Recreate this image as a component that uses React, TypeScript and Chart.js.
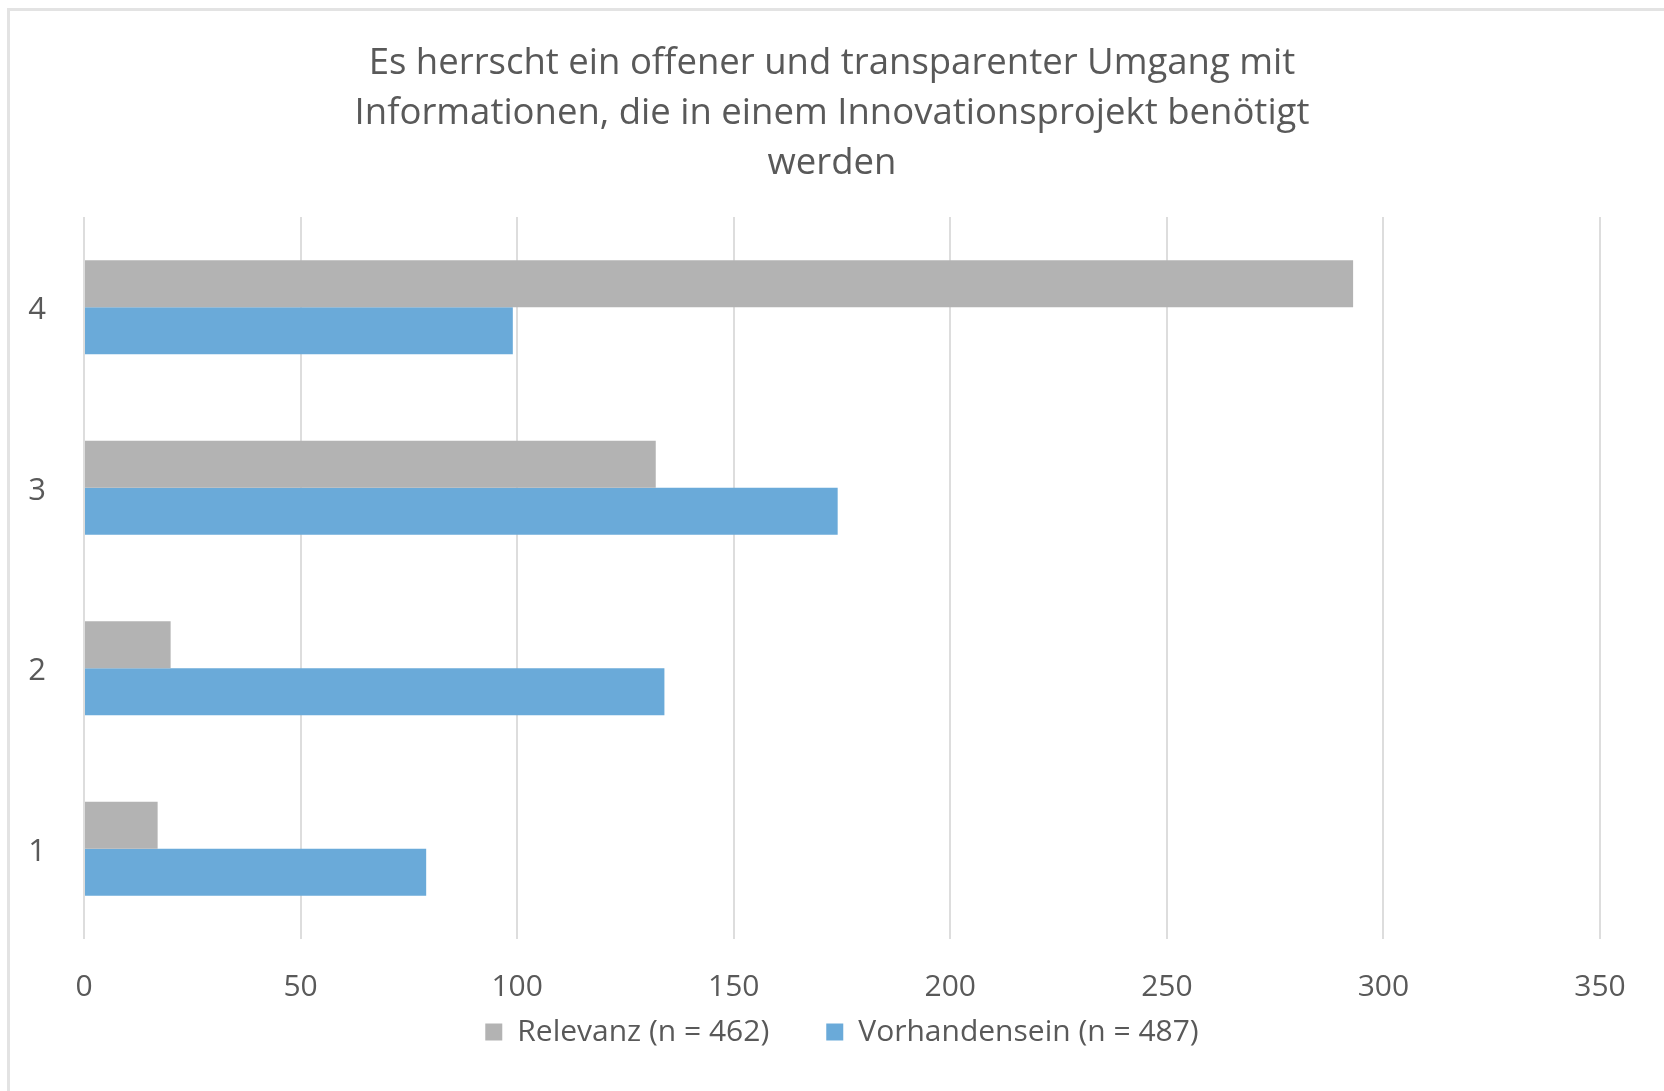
import React, { useEffect, useRef } from 'react';
import { Chart, registerables } from 'chart.js';

Chart.register(...registerables);

const titleLines = [
  'Es herrscht ein offener und transparenter Umgang mit',
  'Informationen, die in einem Innovationsprojekt benötigt',
  'werden',
];
const categories = ['4', '3', '2', '1'];
const relevanz = [293, 132, 20, 17];
const vorhandensein = [99, 174, 134, 79];
const seriesLabels = ['Relevanz (n = 462)', 'Vorhandensein (n = 487)'];
const xMin = 0;
const xMax = 350;
const xStep = 50;

const FONT = "'Open Sans', sans-serif";
const TEXT = '#595959';

export default function App() {
  const ref = useRef<HTMLCanvasElement | null>(null);

  useEffect(() => {
    if (!ref.current) return;
    const chart = new Chart(ref.current, {
      type: 'bar',
      data: {
        labels: categories,
        datasets: [
          {
            label: seriesLabels[0],
            data: relevanz,
            backgroundColor: '#b3b3b3',
            borderWidth: 0,
            categoryPercentage: 0.52,
            barPercentage: 1.0,
          },
          {
            label: seriesLabels[1],
            data: vorhandensein,
            backgroundColor: '#6aaad9',
            borderWidth: 0,
            categoryPercentage: 0.52,
            barPercentage: 1.0,
          },
        ],
      },
      options: {
        indexAxis: 'y',
        animation: false,
        responsive: false,
        maintainAspectRatio: false,
        layout: { padding: { left: 0, right: 0, top: 0, bottom: 34 } },
        plugins: {
          title: {
            display: true,
            text: titleLines,
            color: TEXT,
            font: { family: FONT, size: 36.5, weight: 'normal', lineHeight: '50px' },
            padding: { top: 39, bottom: 28 },
          },
          legend: {
            display: true,
            position: 'bottom',
            fullSize: false,
            labels: {
              color: TEXT,
              font: { family: FONT, size: 30 },
              boxWidth: 17,
              boxHeight: 17,
              padding: 12,
              generateLabels: (c: any) => {
                const items = Chart.defaults.plugins.legend.labels.generateLabels(c);
                // widen the gap after the first entry, as in the original legend
                if (items[0]) items[0].text = items[0].text + '\u2002\u2002\u2002';
                return items;
              },
            },
          },
          tooltip: { enabled: false },
        },
        scales: {
          x: {
            type: 'linear',
            min: xMin,
            max: xMax,
            ticks: {
              stepSize: xStep,
              color: TEXT,
              font: { family: FONT, size: 30 },
              padding: 30,
            },
            grid: { color: '#dddddd', lineWidth: 2, drawTicks: false },
            border: { display: false },
            afterFit: (scale: any) => {
              scale.height = 66;
            },
          },
          y: {
            type: 'category',
            ticks: {
              color: TEXT,
              font: { family: FONT, size: 31 },
              padding: 38,
              labelOffset: 3,
            },
            grid: { display: false, drawTicks: false },
            border: { display: false },
            afterFit: (scale: any) => {
              scale.width = 84;
            },
          },
          yRight: {
            type: 'category',
            position: 'right',
            ticks: { display: false },
            grid: { display: false, drawTicks: false },
            border: { display: false },
            afterFit: (scale: any) => {
              scale.width = 64;
            },
          },
        },
      },
    });
    return () => chart.destroy();
  }, []);

  return (
    <div
      style={{
        position: 'fixed',
        left: 0,
        top: 0,
        width: 1664,
        height: 1091,
        overflow: 'hidden',
        background: '#ffffff',
      }}
    >
      <div
        style={{
          position: 'absolute',
          left: 7,
          top: 8,
          width: 1700,
          height: 1200,
          borderLeft: '3px solid #e3e3e3',
          borderTop: '3px solid #e3e3e3',
          boxSizing: 'border-box',
        }}
      />
      <canvas
        ref={ref}
        width={1664}
        height={1091}
        style={{ position: 'absolute', left: 0, top: 0, width: 1664, height: 1091 }}
      />
    </div>
  );
}
